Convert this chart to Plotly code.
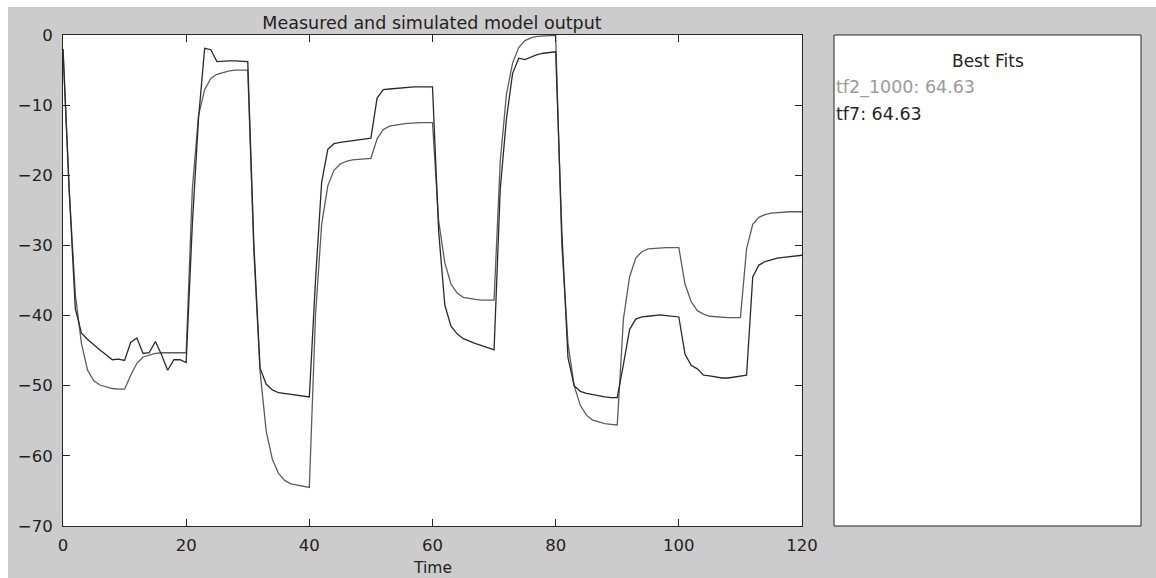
import plotly.graph_objects as go

# Sample times (s)
time_s = list(range(0, 121))

# tf7 response (darker, jagged trace)
y_tf7 = [
    -2.0, -22.0, -39.0, -42.5, -43.4, -44.2, -44.9, -45.6, -46.3, -46.2,
    -46.4, -43.8, -43.2, -45.4, -45.3, -43.7, -45.6, -47.8, -46.3, -46.3,
    -46.7, -27.0, -12.0, -1.9, -2.1, -3.8, -3.7, -3.7, -3.7, -3.8,
    -3.8, -30.0, -47.5, -49.8, -50.6, -51.0, -51.1, -51.2, -51.3, -51.5,
    -51.6, -35.0, -21.0, -16.3, -15.5, -15.3, -15.2, -15.1, -14.9, -14.8,
    -14.7, -9.0, -7.8, -7.7, -7.6, -7.5, -7.5, -7.4, -7.4, -7.4,
    -7.4, -28.0, -38.5, -41.5, -42.6, -43.3, -43.7, -44.0, -44.3, -44.6,
    -44.9, -22.0, -12.0, -5.5, -3.3, -3.5, -3.1, -2.8, -2.6, -2.5,
    -2.4, -28.0, -46.0, -50.0, -50.8, -51.1, -51.3, -51.5, -51.6, -51.7,
    -51.7, -47.0, -42.0, -40.5, -40.2, -40.1, -40.0, -39.9, -40.0, -40.1,
    -40.2, -45.5, -47.1, -47.6, -48.5, -48.6, -48.8, -48.9, -48.9, -48.8,
    -48.7, -48.5, -34.5, -32.8, -32.3, -32.0, -31.8, -31.7, -31.6, -31.5,
    -31.4,
]

# tf2_1000 response (lighter, smooth trace)
y_tf2_1000 = [
    -2.0, -22.0, -37.0, -44.0, -47.8, -49.3, -49.9, -50.2, -50.4, -50.5,
    -50.5, -48.5, -46.8, -45.9, -45.6, -45.4, -45.3, -45.3, -45.3, -45.3,
    -45.3, -22.0, -11.5, -7.8, -6.2, -5.6, -5.3, -5.1, -5.0, -5.0,
    -5.0, -31.0, -48.0, -56.5, -60.5, -62.5, -63.5, -64.0, -64.2, -64.4,
    -64.5, -40.0, -27.0, -21.5, -19.3, -18.4, -18.0, -17.8, -17.7, -17.6,
    -17.6, -14.8, -13.5, -13.0, -12.8, -12.7, -12.6, -12.5, -12.5, -12.5,
    -12.5, -26.5, -32.5, -35.5, -36.8, -37.4, -37.6, -37.7, -37.8, -37.8,
    -37.8, -18.0, -8.5, -4.0, -1.8, -0.8, -0.4, -0.2, -0.1, -0.1,
    -0.1, -30.0, -44.0, -50.0, -52.8, -54.2, -54.9, -55.2, -55.4, -55.5,
    -55.6, -40.5, -34.5, -31.8, -30.9, -30.5, -30.4, -30.3, -30.3, -30.3,
    -30.3, -35.5, -38.0, -39.3, -39.8, -40.1, -40.2, -40.3, -40.3, -40.3,
    -40.3, -30.5, -27.0, -26.0, -25.6, -25.4, -25.3, -25.2, -25.2, -25.2,
    -25.2,
]

x_ticks = [0, 20, 40, 60, 80, 100, 120]
y_ticks = [0, -10, -20, -30, -40, -50, -60, -70]

fit_names = ["tf2_1000", "tf7"]
fit_values = [64.63, 64.63]
fit_colors = ["#9a9a9a", "#262626"]

W, H = 1156, 578
ML, MR, MT, MB = 63, 354, 35, 52
PW, PH = W - ML - MR, H - MT - MB


def px_x(px):
    return (px - ML) / PW


def px_y(py):
    return (H - MB - py) / PH


FONT = "DejaVu Sans"
AX = "#262626"
TXT = "#222222"

fig = go.Figure()
fig.add_trace(go.Scatter(x=time_s, y=y_tf2_1000, mode="lines", name=fit_names[0],
                         line=dict(color="#5c5c5c", width=1.3)))
fig.add_trace(go.Scatter(x=time_s, y=y_tf7, mode="lines", name=fit_names[1],
                         line=dict(color="#2a2a2a", width=1.3)))

shapes = [
    # white frame strips along the top and left edges
    dict(type="rect", xref="paper", yref="paper", x0=px_x(0), x1=px_x(W),
         y0=px_y(7), y1=px_y(0), fillcolor="white", line=dict(width=0), layer="below"),
    dict(type="rect", xref="paper", yref="paper", x0=px_x(0), x1=px_x(8),
         y0=px_y(H), y1=px_y(0), fillcolor="white", line=dict(width=0), layer="below"),
    # fit summary panel
    dict(type="rect", xref="paper", yref="paper", x0=px_x(834), x1=px_x(1141),
         y0=px_y(526), y1=px_y(35), fillcolor="white",
         line=dict(color=AX, width=1), layer="below"),
]

annotations = [
    dict(text="Time", xref="paper", yref="paper", x=px_x(432), y=px_y(568),
         xanchor="center", yanchor="middle", showarrow=False,
         font=dict(family=FONT, size=15.5, color=TXT)),
    dict(text="Best Fits", xref="paper", yref="paper", x=px_x(987.5), y=px_y(61),
         xanchor="center", yanchor="middle", showarrow=False,
         font=dict(family=FONT, size=17, color=TXT)),
]
for i, (n, v, c) in enumerate(zip(fit_names, fit_values, fit_colors)):
    annotations.append(dict(text=f"{n}: {v:.2f}", xref="paper", yref="paper",
                            x=px_x(834), y=px_y(87 + 27 * i), xanchor="left",
                            yanchor="middle", showarrow=False,
                            font=dict(family=FONT, size=17.5, color=c)))

fig.update_layout(
    width=W, height=H,
    margin=dict(l=ML, r=MR, t=MT, b=MB, pad=0, autoexpand=False),
    paper_bgcolor="#cccccc",
    plot_bgcolor="white",
    showlegend=False,
    shapes=shapes,
    annotations=annotations,
    title=dict(text="Measured and simulated model output", x=px_x(432), xanchor="center",
               xref="paper", y=1 - 23 / H, yanchor="middle",
               font=dict(family=FONT, size=17.5, color=TXT)),
    font=dict(family=FONT, size=16, color=TXT),
)

fig.update_xaxes(
    range=[0, 120], tickvals=x_ticks, ticks="inside", ticklen=7, tickcolor=AX,
    showline=True, linecolor=AX, linewidth=1, mirror="ticks", showgrid=False,
    zeroline=False, tickfont=dict(family=FONT, size=16.5, color=TXT),
    ticklabelstandoff=4, automargin=False,
)
fig.update_yaxes(
    range=[-70, 0], tickvals=y_ticks, ticks="inside", ticklen=7, tickcolor=AX,
    showline=True, linecolor=AX, linewidth=1, mirror="ticks", showgrid=False,
    zeroline=False, tickfont=dict(family=FONT, size=16.5, color=TXT),
    ticklabelstandoff=6, automargin=False,
)

fig.write_html("out.html")
